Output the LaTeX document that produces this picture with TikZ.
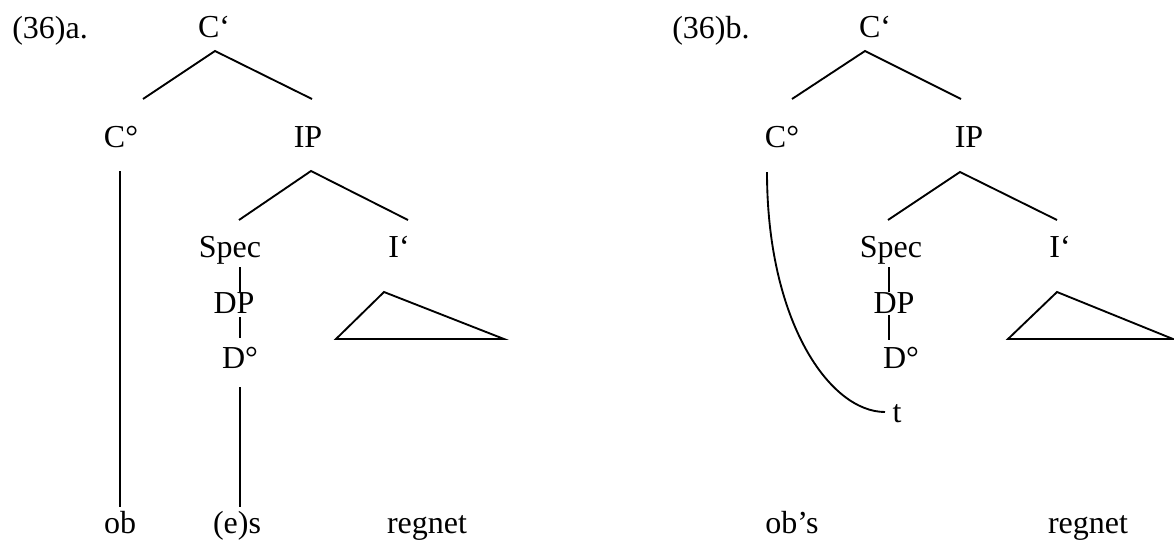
\documentclass[tikz,border=0pt]{standalone}
\usepackage{fontspec}
\setmainfont{Liberation Serif}
\usepackage{tikz}
\usetikzlibrary{calc}
\tikzset{
  every picture/.style={x=0.75pt, y=-0.75pt, font=\fontsize{24}{28}\selectfont},
  kat/.style={anchor=base, inner sep=0pt},
  nummer/.style={anchor=base west, inner sep=0pt},
  ast/.style={line width=1.4pt},
  spur/.style={line width=1.4pt},
}
\begin{document}
\begin{tikzpicture}
  \useasboundingbox (0,0) rectangle (1174,543);
  % (36)a.
  \node[nummer] (numA) at (12,38) {(36)a.};
  \node[kat] (CbarA) at (214,37) {C‘};
  \node[kat] (CnullA) at (121,147) {C°};
  \node[kat] (IPA) at (308,147) {IP};
  \node[kat] (SpecA) at (230,257) {Spec};
  \node[kat] (IbarA) at (399,257) {I‘};
  \node[kat] (DPA) at (234,313) {DP};
  \node[kat] (DnullA) at (240,368) {D°};
  \node[kat] (obA) at (120,533) {ob};
  \node[kat] (esA) at (237,533) {(e)s};
  \node[kat] (regnetA) at (427,533) {regnet};
  \draw[ast] ($(CnullA.base)+(22,-48)$) -- ($(CbarA.base)+(1,14)$) -- ($(IPA.base)+(4,-48)$);
  \draw[ast] ($(CnullA.base)+(-1,24)$) -- ($(obA.base)+(0,-26)$);
  \draw[ast] ($(SpecA.base)+(9,-37)$) -- ($(IPA.base)+(3,24)$) -- ($(IbarA.base)+(9,-37)$);
  \draw[ast] ($(SpecA.base)+(10,10)$) -- ($(DPA.base)+(6,-21)$);
  \draw[ast] ($(DPA.base)+(6,4)$) -- ($(DnullA.base)+(0,-30)$);
  \draw[ast] ($(DnullA.base)+(0,19)$) -- ($(esA.base)+(3,-26)$);
  \draw[ast] ($(IbarA.base)+(-15,35)$) -- ++(-48,47) -- ++(168,0) -- cycle;
  % (36)b.
  \node[nummer] (numB) at (672,38) {(36)b.};
  \node[kat] (CbarB) at (875,37) {C‘};
  \node[kat] (CnullB) at (782,147) {C°};
  \node[kat] (IPB) at (969,147) {IP};
  \node[kat] (SpecB) at (891,257) {Spec};
  \node[kat] (IbarB) at (1060,257) {I‘};
  \node[kat] (DPB) at (894,313) {DP};
  \node[kat] (DnullB) at (901,368) {D°};
  \node[kat] (tB) at (897,422) {t};
  \node[kat] (obsB) at (792,533) {ob’s};
  \node[kat] (regnetB) at (1088,533) {regnet};
  \draw[ast] ($(CnullB.base)+(10,-48)$) -- ($(CbarB.base)+(-10,14)$) -- ($(IPB.base)+(-8,-48)$);
  \draw[ast] ($(SpecB.base)+(-3,-37)$) -- ($(IPB.base)+(-9,25)$) -- ($(IbarB.base)+(-3,-37)$);
  \draw[ast] ($(SpecB.base)+(-2,10)$) -- ($(DPB.base)+(-5,-21)$);
  \draw[ast] ($(DPB.base)+(-5,2)$) -- ($(DnullB.base)+(-12,-28)$);
  \draw[ast] ($(IbarB.base)+(-3,35)$) -- ++(-49,47) -- ++(165,0) -- cycle;
  \draw[spur] ($(CnullB.base)+(-15,25)$) coordinate (kurveA)
    .. controls ($(kurveA)+(0,150)$) and ($(tB.base)+(-67,-10)$) .. ($(tB.base)+(-12,-10)$);
\end{tikzpicture}
\end{document}
